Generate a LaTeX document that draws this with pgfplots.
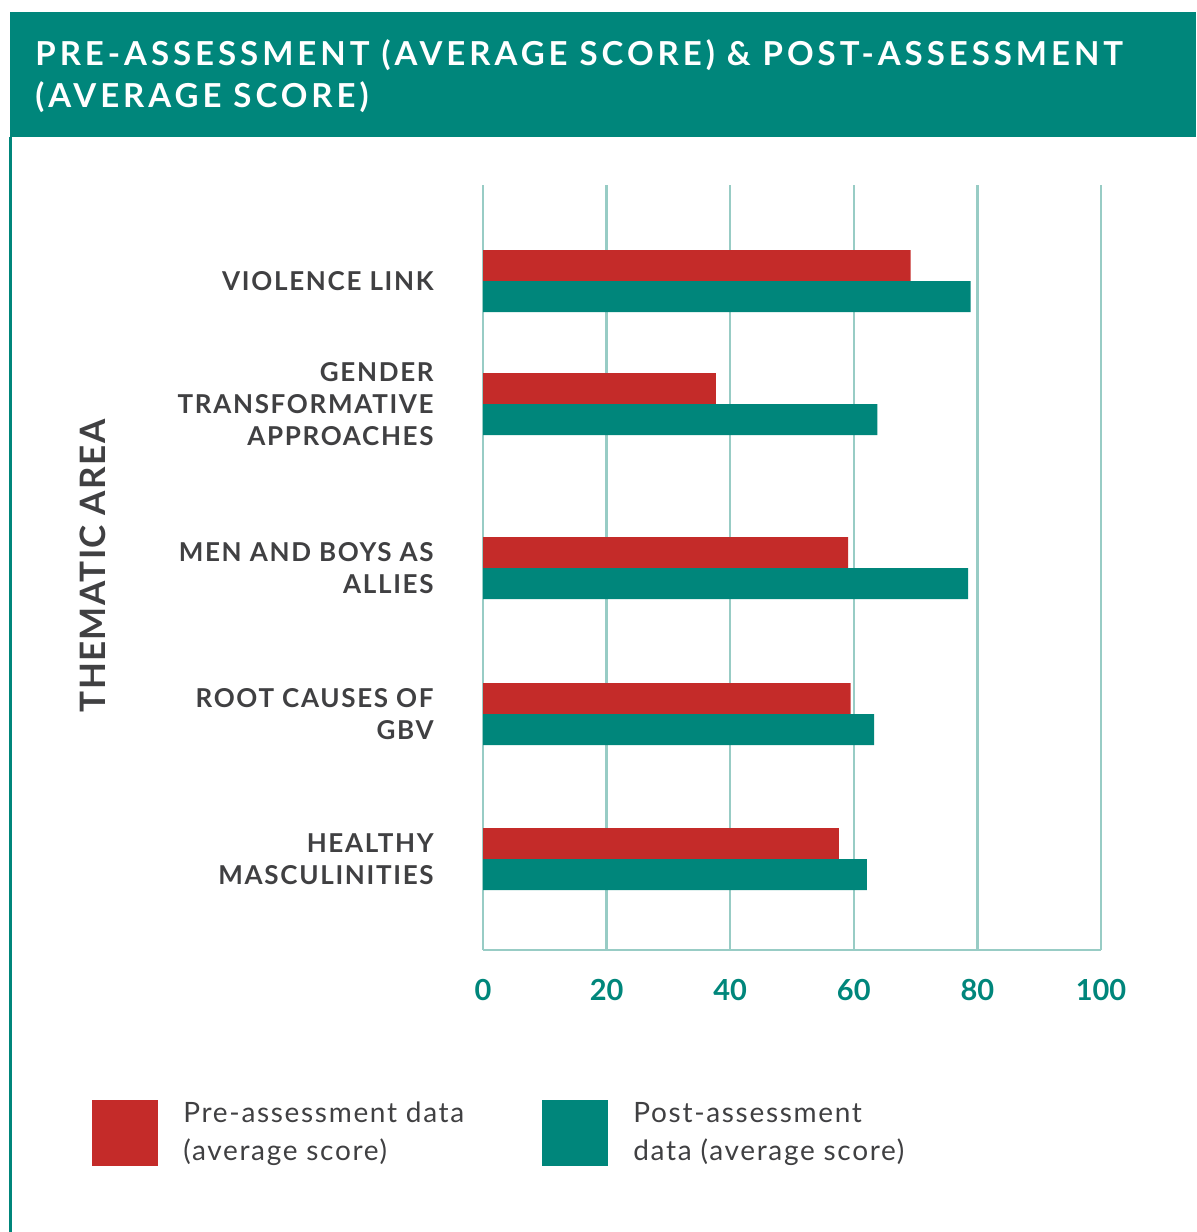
\documentclass[border=0pt]{standalone}
\usepackage{pgfplots}
\pgfplotsset{compat=1.18}
\usepackage{fontspec}
\setmainfont{Lato}
\definecolor{teal}{HTML}{00867B}
\definecolor{barred}{HTML}{C42B29}
\definecolor{gridc}{HTML}{98CCC5}
\definecolor{labgray}{HTML}{404042}
\begin{document}
\begin{tikzpicture}
\path[use as bounding box] (0,0) rectangle (598pt,-616pt);
\fill[teal] (5pt,-6pt) rectangle (598pt,-68.5pt);
\draw[teal, line width=1.5pt] (5.25pt,-68.5pt) -- (5.25pt,-616pt);
\node[anchor=base west, inner sep=0pt, text=white, align=left,
      font=\fontsize{16.5}{21}\bfseries\addfontfeature{LetterSpace=12}]
  at (17.5pt,-53.5pt) {PRE-ASSESSMENT (AVERAGE SCORE) \& POST-ASSESSMENT\\(AVERAGE SCORE)};
\begin{axis}[
  at={(241.5pt,-475pt)}, anchor=south west,
  scale only axis, width=309pt, height=382.5pt,
  xmin=0, xmax=100, ymin=185, ymax=950, y dir=reverse,
  xtick={0,20,40,60,80,100},
  ytick={281,404,568,714,859},
  yticklabels={{VIOLENCE LINK},{GENDER\\TRANSFORMATIVE\\APPROACHES},{MEN AND BOYS AS\\ALLIES},{ROOT CAUSES OF\\GBV},{HEALTHY\\MASCULINITIES}},
  major tick length=0pt,
  axis x line*=bottom, axis y line*=left,
  axis line style={gridc, line width=1.2pt, -},
  xmajorgrids, major grid style={gridc, line width=1.2pt},
  /pgf/number format/assume math mode=true,
  xticklabel style={font=\fontsize{14.5}{16}\bfseries, text=teal, anchor=base, inner sep=0pt, yshift=-25pt},
  yticklabel style={font=\fontsize{13}{16}\bfseries\addfontfeature{LetterSpace=6.5}, text=labgray, align=right, anchor=east, inner sep=0pt, xshift=-24.5pt},
  clip=false,
]
\addplot[xbar, bar width=15.5pt, bar shift=0pt, fill=barred, draw=none]
  coordinates {(69.2,265.5) (37.7,388.5) (59.1,552.5) (59.5,698.5) (57.6,843.5)};
\addplot[xbar, bar width=15.5pt, bar shift=0pt, fill=teal, draw=none]
  coordinates {(78.9,296.5) (63.8,419.5) (78.5,583.5) (63.3,729.5) (62.1,874.5)};
\end{axis}
\node[rotate=90, inner sep=0pt, text=labgray, font=\fontsize{17.5}{20}\bfseries\addfontfeature{LetterSpace=4}]
  at (46.5pt,-283pt) {THEMATIC AREA};
\fill[barred] (46pt,-550pt) rectangle (79pt,-583pt);
\fill[teal] (271pt,-550pt) rectangle (304pt,-583pt);
\node[anchor=base west, inner sep=0pt, align=left, text=labgray, font=\fontsize{14}{19}\selectfont\addfontfeature{LetterSpace=6}]
  at (91.5pt,-580pt) {Pre-assessment data\\(average score)};
\node[anchor=base west, inner sep=0pt, align=left, text=labgray, font=\fontsize{14}{19}\selectfont\addfontfeature{LetterSpace=6}]
  at (316.5pt,-580pt) {Post-assessment\\data (average score)};
\end{tikzpicture}
\end{document}
